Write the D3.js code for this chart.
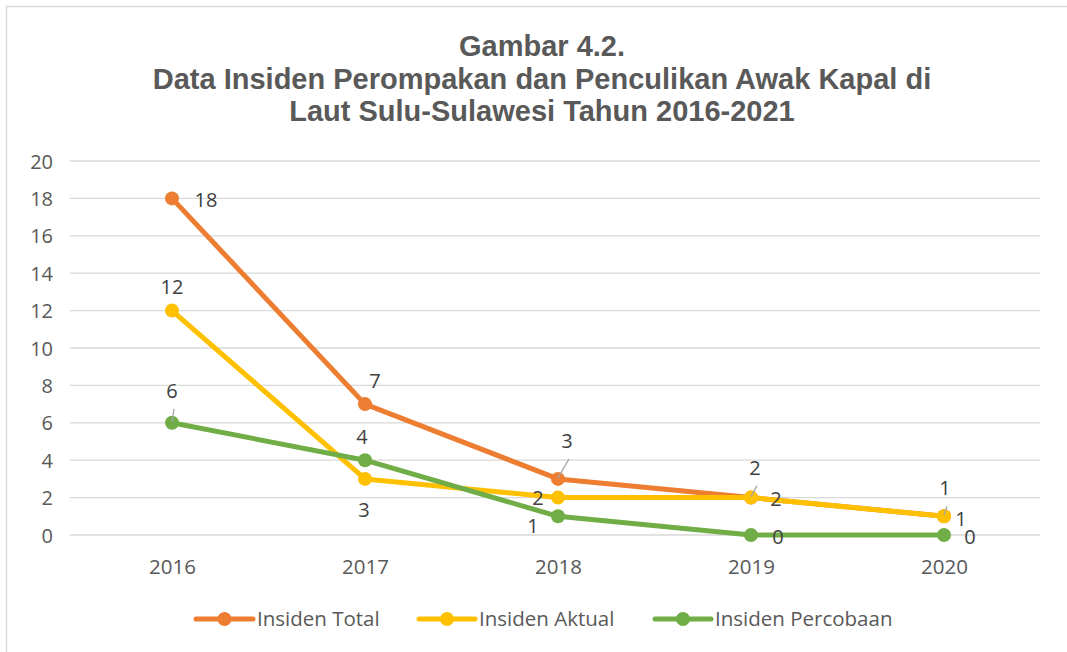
<html>
<head>
<script src="https://d3js.org/d3.v7.min.js" charset="utf-8"></script>
<style>
body { margin: 0; background: white; }
</style>
</head>
<body>
<script>
// chart data
var years = ["2016", "2017", "2018", "2019", "2020"];
var seriesNames = ["Insiden Total", "Insiden Aktual", "Insiden Percobaan"];
var totalVals = [18, 7, 3, 2, 1];
var aktualVals = [12, 3, 2, 2, 1];
var percobaanVals = [6, 4, 1, 0, 0];
var yTicks = [0, 2, 4, 6, 8, 10, 12, 14, 16, 18, 20];
var titleLines = ["Gambar 4.2.", "Data Insiden Perompakan dan Penculikan Awak Kapal di", "Laut Sulu-Sulawesi Tahun 2016-2021"];

var colors = ["#ED7D31", "#FFC000", "#70AD47"];

// label placement per point: [dx, dy, leader]
var labelPos = [
  [[34, 2, 0], [10, -23, 0], [9, -38, 1], [4, -30, 1], [1, -28, 1]],
  [[0, -24, 0], [-1, 31, 0], [-20, 0, 0], [25, 1, 0], [17, 3, 0]],
  [[0, -32, 1], [-3, -23, 0], [-25, 10, 0], [27, 2, 0], [26, 2, 0]]
];

var width = 1067, height = 652;
var svg = d3.select("body").append("svg")
  .attr("width", width).attr("height", height);

// outer frame
svg.append("rect").attr("x", 6.5).attr("y", 6.5)
  .attr("width", width + 10).attr("height", height + 10)
  .attr("fill", "white").attr("stroke", "#d9d9d9").attr("stroke-width", 1.5);

var x = d3.scalePoint().domain(years).range([172, 944]).padding(0);
var y = d3.scaleLinear().domain([0, 20]).range([535, 161]);

// title
svg.append("g").selectAll("text").data(titleLines).enter().append("text")
  .attr("x", 542).attr("y", function(d, i) { return 56 + i * 32.5; })
  .attr("text-anchor", "middle")
  .attr("font-family", "Liberation Sans, Arial, sans-serif")
  .attr("font-weight", "bold").attr("font-size", "29px")
  .attr("fill", "#595959")
  .text(function(d) { return d; });

// grid
svg.append("g").selectAll("line").data(yTicks).enter().append("line")
  .attr("x1", 70).attr("x2", 1040)
  .attr("y1", function(d) { return y(d); }).attr("y2", function(d) { return y(d); })
  .attr("stroke", "#d9d9d9").attr("stroke-width", 1.3);

var yAxis = svg.append("g").attr("transform", "translate(53,0)")
  .call(d3.axisLeft(y).tickValues(yTicks).tickSize(0).tickPadding(0));
yAxis.select(".domain").remove();
yAxis.selectAll("text").attr("font-family", "Open Sans, sans-serif")
  .attr("font-size", "20px").attr("fill", "#595959").attr("dy", "0.35em");

var xAxis = svg.append("g").attr("transform", "translate(0,567)")
  .call(d3.axisBottom(x).tickSize(0).tickPadding(0));
xAxis.select(".domain").remove();
xAxis.selectAll("text").attr("font-family", "Open Sans, sans-serif")
  .attr("font-size", "20.5px").attr("fill", "#595959").attr("dy", "0.35em");

var allSeries = [totalVals, aktualVals, percobaanVals];
var line = d3.line()
  .x(function(d, i) { return x(years[i]); })
  .y(function(d) { return y(d); });

// series lines and markers
allSeries.forEach(function(vals, s) {
  var g = svg.append("g");
  g.append("path").datum(vals).attr("d", line)
    .attr("fill", "none").attr("stroke", colors[s]).attr("stroke-width", 5)
    .attr("stroke-linejoin", "round");
  g.selectAll("circle").data(vals).enter().append("circle")
    .attr("cx", function(d, i) { return x(years[i]); })
    .attr("cy", function(d) { return y(d); })
    .attr("r", 7).attr("fill", colors[s]);
});

// data labels
allSeries.forEach(function(vals, s) {
  var g = svg.append("g");
  vals.forEach(function(v, i) {
    var px = x(years[i]), py = y(v), p = labelPos[s][i];
    if (p[2]) {
      g.append("line")
        .attr("x1", px).attr("y1", py - 1)
        .attr("x2", px + p[0] + 2).attr("y2", py + p[1] + 18)
        .attr("stroke", "#a6a6a6").attr("stroke-width", 1.3);
    }
    g.append("text").attr("x", px + p[0]).attr("y", py + p[1])
      .attr("text-anchor", "middle").attr("dy", "0.35em")
      .attr("font-family", "Open Sans, sans-serif").attr("font-size", "20px")
      .attr("fill", "#404040").text(v);
  });
});

// legend
var legendX = [[196, 253, 257], [419, 475, 479], [655, 711, 715]];
var legend = svg.append("g");
seriesNames.forEach(function(name, s) {
  var lx = legendX[s];
  legend.append("line").attr("x1", lx[0]).attr("x2", lx[1])
    .attr("y1", 619).attr("y2", 619)
    .attr("stroke", colors[s]).attr("stroke-width", 5).attr("stroke-linecap", "round");
  legend.append("circle").attr("cx", (lx[0] + lx[1]) / 2).attr("cy", 619)
    .attr("r", 7).attr("fill", colors[s]);
  legend.append("text").attr("x", lx[2]).attr("y", 619).attr("dy", "0.35em")
    .attr("font-family", "Open Sans, sans-serif").attr("font-size", "20.5px")
    .attr("fill", "#595959").text(name);
});
</script>
</body>
</html>
